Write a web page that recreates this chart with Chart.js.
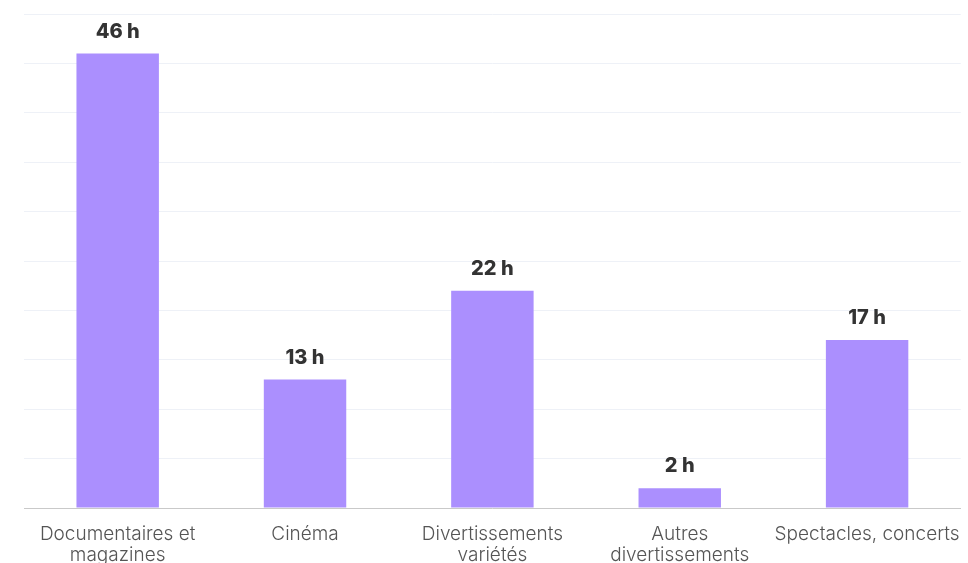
<!DOCTYPE html>
<html>
<head>
<meta charset="utf-8">
<script src="https://cdn.jsdelivr.net/npm/chart.js@4"></script>
<style>
  html, body { margin: 0; padding: 0; background: #fff; overflow: hidden; }
  #wrap { width: 968px; height: 563px; position: relative; }
</style>
</head>
<body>
<div id="wrap"><canvas id="chart"></canvas></div>
<script>
const categories = [
  ['Documentaires et', 'magazines'],
  ['Cinéma'],
  ['Divertissements', 'variétés'],
  ['Autres', 'divertissements'],
  ['Spectacles, concerts']
];
const hours = [46, 13, 22, 2, 17];

const FONT = 'Inter, "Noto Sans", sans-serif';

// labels "46 h" above each bar
const valueLabels = {
  id: 'valueLabels',
  afterDatasetsDraw(chart) {
    const { ctx } = chart;
    const meta = chart.getDatasetMeta(0);
    ctx.save();
    ctx.font = `800 20px ${FONT}`;
    ctx.fillStyle = '#333333';
    ctx.textAlign = 'center';
    ctx.textBaseline = 'middle';
    meta.data.forEach((bar, i) => {
      ctx.fillText(`${hours[i]} h`, bar.x, bar.y - 22);
    });
    ctx.restore();
  }
};

new Chart(document.getElementById('chart'), {
  type: 'bar',
  data: {
    labels: categories,
    datasets: [{
      data: hours,
      backgroundColor: '#ab8ffe',
      borderWidth: 0,
      barPercentage: 0.44,
      categoryPercentage: 1
    }]
  },
  plugins: [valueLabels],
  options: {
    responsive: true,
    maintainAspectRatio: false,
    animation: false,
    layout: { padding: { left: 24, right: 4, top: 14, bottom: 0 } },
    plugins: {
      legend: { display: false },
      tooltip: { enabled: false }
    },
    scales: {
      x: {
        grid: { display: false },
        border: { color: '#c9c9c9', width: 1 },
        ticks: {
          color: '#555555',
          font: { family: FONT, size: 19, weight: 300, lineHeight: 1.1 },
          padding: 8,
          maxRotation: 0,
          autoSkip: false
        },
        afterFit: (scale) => { scale.height = 55; }
      },
      y: {
        min: 0, max: 50,
        ticks: { display: false, stepSize: 5 },
        grid: { color: '#eef1f7', drawTicks: false },
        border: { display: false },
        afterFit: (scale) => { scale.width = 0; }
      }
    }
  }
});
</script>
</body>
</html>
